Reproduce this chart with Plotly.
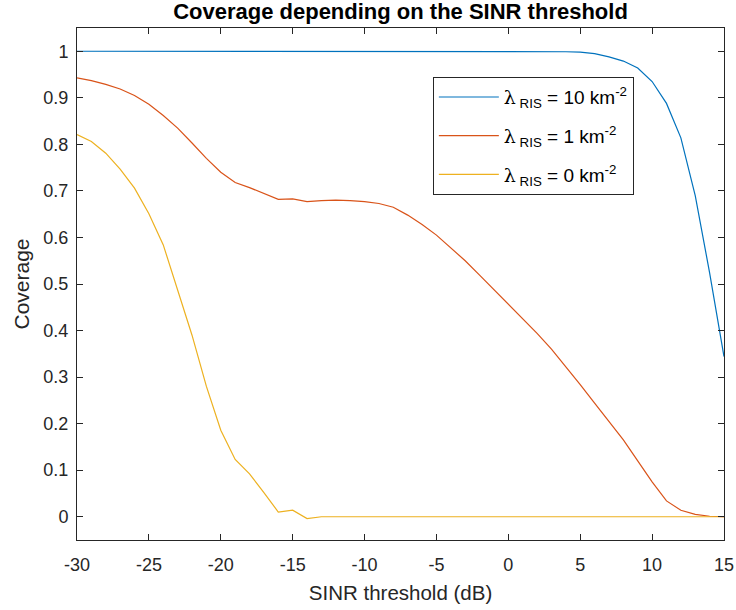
import plotly.graph_objects as go

x_db = list(range(-30, 16))

cov_10 = [1.0] * 34 + [0.999, 0.998, 0.995, 0.988, 0.979, 0.964, 0.935, 0.888,
                       0.814, 0.69, 0.524, 0.344]

cov_1 = [0.943, 0.937, 0.929, 0.919, 0.905, 0.886, 0.862, 0.835, 0.803, 0.770,
         0.740, 0.718, 0.707, 0.695, 0.682, 0.683, 0.677, 0.679, 0.680, 0.679,
         0.677, 0.673, 0.665, 0.648, 0.628, 0.605, 0.578, 0.550, 0.519, 0.488,
         0.457, 0.426, 0.394, 0.360, 0.323, 0.284, 0.244, 0.205, 0.165, 0.120,
         0.075, 0.034, 0.014, 0.005, 0.001, 0.0]

cov_0 = [0.821, 0.806, 0.781, 0.747, 0.706, 0.651, 0.584, 0.488, 0.390, 0.280,
         0.186, 0.123, 0.092, 0.052, 0.010, 0.014, -0.004] + [0.0] * 29

lam = "<span style=\"font-family:'DejaVu Serif'\">λ</span>"
names = [lam + "<sub> RIS</sub> = 10 km<sup>-2</sup>",
         lam + "<sub> RIS</sub> = 1 km<sup>-2</sup>",
         lam + "<sub> RIS</sub> = 0 km<sup>-2</sup>"]
colors = ["#0072BD", "#D95319", "#EDB120"]
series = [cov_10, cov_1, cov_0]

x_ticks = list(range(-30, 16, 5))
x_labels = ["-30", "-25", "-20", "-15", "-10", "-5", "0", "5", "10", "15"]
y_ticks = [round(i * 0.1, 1) for i in range(11)]
y_labels = ["0", "0.1", "0.2", "0.3", "0.4", "0.5", "0.6", "0.7", "0.8", "0.9", "1"]

fig = go.Figure()
for i, (ys, nm, c) in enumerate(zip(series, names, colors)):
    fig.add_trace(go.Scatter(x=x_db, y=ys, mode="lines", name=nm,
                             line=dict(color=c, width=1.2), legendgroup=f"g{i}"))

font_family = "Liberation Sans, Arial, sans-serif"
axis_common = dict(showgrid=False, zeroline=False, showline=True, linecolor="#262626",
                   linewidth=1, mirror="ticks", ticks="inside", ticklen=6,
                   automargin=False,
                   tickcolor="#262626", tickfont=dict(size=18, color="#262626",
                                                      family=font_family))

fig.update_layout(
    width=736, height=610,
    paper_bgcolor="white", plot_bgcolor="white",
    margin=dict(l=77, r=12, t=28, b=70),
    title=dict(text="<b>Coverage depending on the SINR threshold</b>",
               xref="paper", x=0.5, xanchor="center", y=0.981, yanchor="middle",
               font=dict(size=22, color="black", family=font_family)),
    xaxis=dict(range=[-30, 15], tickvals=x_ticks, ticktext=x_labels,
               ticklabelstandoff=8,
               title=dict(text="SINR threshold (dB)", standoff=12,
                          font=dict(size=20.5, color="#262626", family=font_family)),
               **axis_common),
    yaxis=dict(range=[-0.05, 1.05], tickvals=y_ticks, ticktext=y_labels,
               ticklabelstandoff=4,
               title=dict(text="Coverage", standoff=8,
                          font=dict(size=21, color="#262626", family=font_family)),
               **axis_common),
    legend=dict(x=0.55, y=0.904, xanchor="left", yanchor="top",
                bgcolor="white", bordercolor="#262626", borderwidth=1,
                font=dict(size=19, color="black", family=font_family),
                tracegroupgap=11, itemwidth=60),
    showlegend=True,
)

fig.write_html("out.html", config={"displayModeBar": False},
               post_script="document.body.style.margin='0';")
